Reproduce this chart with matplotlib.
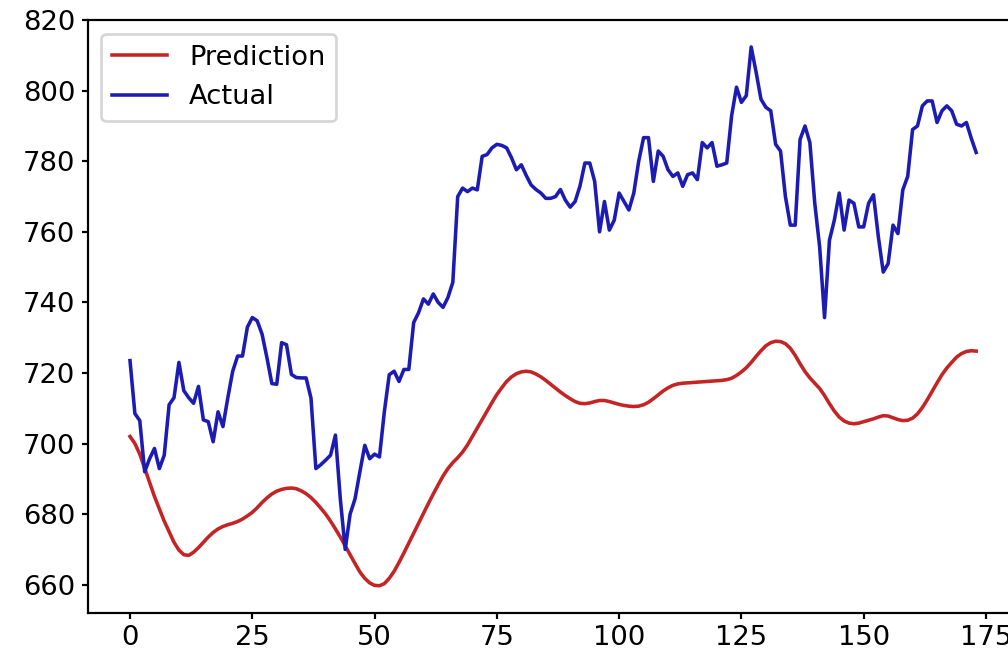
import numpy as np
import matplotlib
matplotlib.use('Agg')
import matplotlib.pyplot as plt

# --- values ---
actual = [
    723.5, 708.5, 706.5, 692.0, 695.7, 698.6, 692.9, 696.7, 711.0, 713.0,
    723.0, 715.0, 713.0, 711.4, 716.2, 706.7, 706.2, 700.5, 709.0, 704.8,
    713.0, 720.5, 724.8, 724.8, 733.0, 735.7, 734.8, 731.0, 724.3, 717.0,
    716.8, 728.6, 728.0, 719.6, 718.7, 718.6, 718.6, 712.9, 692.9, 694.0,
    695.3, 696.7, 702.4, 684.3, 670.0, 680.0, 684.3, 692.0, 699.5, 695.7,
    697.0, 696.2, 709.0, 719.5, 720.5, 717.6, 721.0, 721.0, 734.3, 737.1,
    741.0, 739.5, 742.4, 740.0, 738.6, 741.4, 745.7, 770.0, 772.4, 771.4,
    772.4, 771.9, 781.4, 781.9, 783.8, 784.8, 784.5, 783.8, 781.0, 777.6,
    779.0, 776.0, 773.3, 772.0, 771.0, 769.5, 769.5, 770.0, 772.0, 769.0,
    767.0, 768.6, 773.0, 779.5, 779.5, 774.3, 760.0, 768.6, 760.5, 763.3,
    771.0, 768.6, 766.2, 771.0, 780.0, 786.7, 786.7, 774.3, 782.9, 781.4,
    777.6, 775.7, 776.7, 772.9, 776.2, 776.7, 774.8, 785.3, 783.8, 785.3,
    778.6, 779.0, 779.5, 792.9, 801.0, 796.7, 798.6, 812.4, 805.3, 797.6,
    795.3, 794.3, 784.8, 782.9, 770.0, 761.9, 761.9, 786.2, 790.0, 785.3,
    768.1, 755.7, 735.7, 757.6, 763.3, 771.0, 760.5, 769.0, 768.1, 761.4,
    761.4, 768.1, 770.5, 758.6, 748.6, 751.0, 761.9, 759.5, 771.9, 775.7,
    789.0, 790.0, 795.7, 797.1, 797.1, 791.0, 794.3, 795.7, 794.3, 790.5,
    790.0, 791.0, 786.5, 782.5,
]

prediction = [
    702.0, 700.0, 697.0, 693.0, 689.0, 685.0, 681.5, 678.0, 675.0, 672.0,
    669.8, 668.5, 668.3, 669.2, 670.5, 672.0, 673.5, 674.8, 675.8, 676.5,
    677.0, 677.4, 677.9, 678.6, 679.5, 680.5, 681.8, 683.3, 684.6, 685.7,
    686.5, 687.0, 687.3, 687.4, 687.2, 686.6, 685.8, 684.7, 683.3, 681.7,
    680.0, 678.0, 675.8, 673.5, 671.0, 668.5, 666.0, 663.6, 661.8, 660.5,
    659.8, 659.7, 660.3, 661.8, 663.8, 666.3, 669.0, 671.8, 674.6, 677.4,
    680.2, 683.0, 685.7, 688.3, 690.8, 692.9, 694.6, 696.0, 697.6, 699.6,
    702.0, 704.4, 706.8, 709.2, 711.6, 713.9, 715.8, 717.6, 718.9, 719.8,
    720.3, 720.5, 720.3, 719.7, 718.9, 717.9, 716.8, 715.7, 714.6, 713.6,
    712.7, 711.9, 711.4, 711.3, 711.5, 711.9, 712.2, 712.2, 711.9, 711.5,
    711.1, 710.8, 710.6, 710.5, 710.6, 711.0, 711.7, 712.7, 713.8, 714.9,
    715.8, 716.5, 716.9, 717.1, 717.2, 717.3, 717.4, 717.5, 717.6, 717.7,
    717.8, 717.9, 718.1, 718.5, 719.3, 720.3, 721.5, 723.0, 724.7, 726.3,
    727.7, 728.6, 729.0, 728.9, 728.3, 727.0, 725.0, 722.6, 720.4, 718.6,
    717.1, 715.6, 713.6, 711.3, 709.2, 707.5, 706.4, 705.8, 705.6, 705.8,
    706.2, 706.6, 707.0, 707.5, 707.9, 707.8, 707.3, 706.8, 706.5, 706.6,
    707.2, 708.4, 710.2, 712.4, 714.8, 717.2, 719.5, 721.4, 723.0, 724.5,
    725.5, 726.1, 726.3, 726.2,
]

dpi = 197
fig = plt.figure(figsize=(1008 / dpi, 652 / dpi), dpi=dpi)
# axes run past the right edge, as in the cropped reference
ax = fig.add_axes([0.087, 0.0603, 0.9234, 0.9090])

ax.plot(prediction, color='#c42424', lw=1.3, label='Prediction')
ax.plot(actual, color='#1c1cb4', lw=1.3, label='Actual')
ax.legend(loc='upper left')

ax.tick_params(length=2.3, pad=2.2)

fig.savefig('out.png', dpi=dpi)
